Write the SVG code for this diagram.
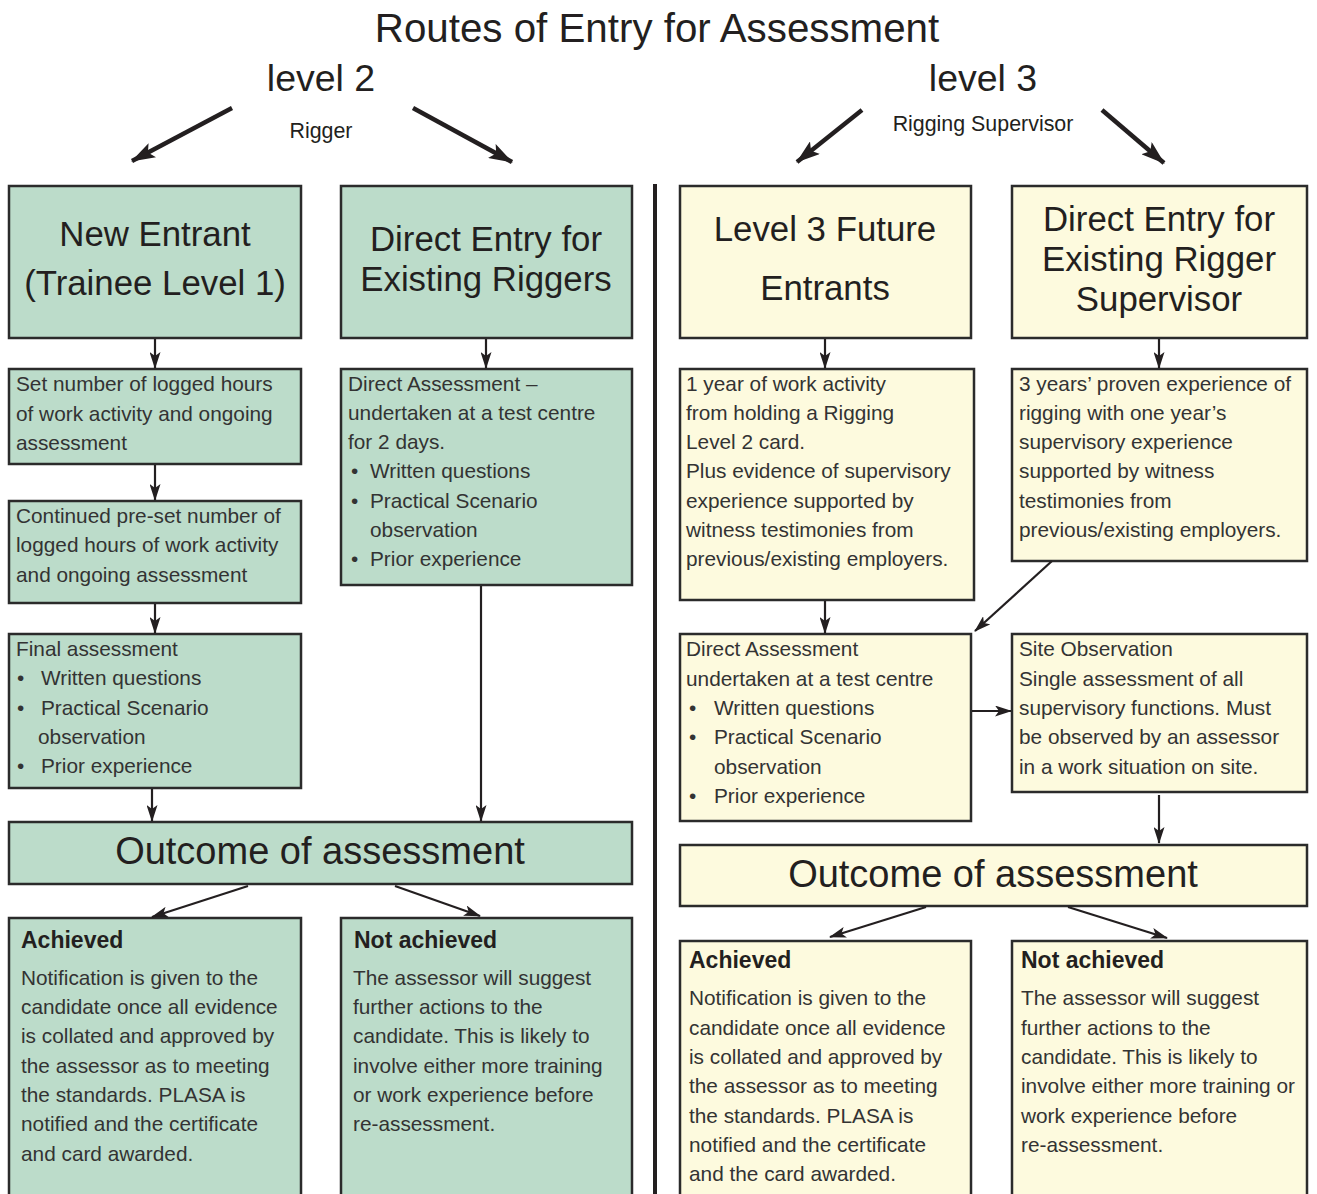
<svg xmlns="http://www.w3.org/2000/svg" width="1317" height="1194" viewBox="0 0 1317 1194">
<style>
.g{fill:#bcdcca;stroke:#2b2b2b;stroke-width:2.5}
.y{fill:#fdfade;stroke:#2b2b2b;stroke-width:2.5}
text{font-family:"Liberation Sans",Arial,sans-serif;fill:#231f20}
.h1{font-size:40.3px;text-anchor:middle}
.lv{font-size:37.5px;text-anchor:middle}
.sub{font-size:21.4px;text-anchor:middle}
.bt{font-size:34.8px;text-anchor:middle}
.b{font-size:20.8px;fill:#333}
.hd{font-size:23px;font-weight:bold}
.oc{font-size:38px;text-anchor:middle}
.c line{stroke:#231f20;stroke-width:2.2}
.c .thick{stroke-width:4.5}
</style>
<defs>
<marker id="a" viewBox="0 0 17 11" refX="16" refY="5.5" markerWidth="17" markerHeight="11" markerUnits="userSpaceOnUse" orient="auto">
<path d="M0,0 L17,5.5 L0,11 L4,5.5 z" fill="#231f20"/>
</marker>
<marker id="A" viewBox="0 0 24 16" refX="23" refY="8" markerWidth="24" markerHeight="16" markerUnits="userSpaceOnUse" orient="auto">
<path d="M0,0 L24,8 L0,16 L5,8 z" fill="#231f20"/>
</marker>
</defs>
<rect width="1317" height="1194" fill="#fff"/>
<text class="h1" x="657" y="42">Routes of Entry for Assessment</text>
<text class="lv" x="321" y="91">level 2</text>
<text class="lv" x="983" y="91">level 3</text>
<text class="sub" x="321" y="138">Rigger</text>
<text class="sub" x="983" y="131">Rigging Supervisor</text>
<line x1="655" y1="184" x2="655" y2="1194" stroke="#231f20" stroke-width="4"/>

<g id="new-entrant"><rect class="g" x="9" y="186" width="292" height="152"/>
<text class="bt" x="155" y="246">New Entrant</text><text class="bt" x="155" y="295">(Trainee Level 1)</text></g>
<g id="direct-entry-riggers"><rect class="g" x="341" y="186" width="291" height="152"/>
<text class="bt" x="486" y="251">Direct Entry for</text><text class="bt" x="486" y="291">Existing Riggers</text></g>
<g id="set-number"><rect class="g" x="9" y="369" width="292" height="95"/>
<text class="b" x="16" y="391">Set number of logged hours</text><text class="b" x="16" y="421">of work activity and ongoing</text><text class="b" x="16" y="450">assessment</text></g>
<g id="continued"><rect class="g" x="9" y="501" width="292" height="102"/>
<text class="b" x="16" y="523">Continued pre-set number of</text><text class="b" x="16" y="552">logged hours of work activity</text><text class="b" x="16" y="582">and ongoing assessment</text></g>
<g id="final-assessment"><rect class="g" x="9" y="634" width="292" height="154"/>
<text class="b" x="16" y="656">Final assessment</text>
<text class="b" x="17" y="685">•</text><text class="b" x="41" y="685">Written questions</text>
<text class="b" x="17" y="715">•</text><text class="b" x="41" y="715">Practical Scenario</text>
<text class="b" x="38" y="744">observation</text>
<text class="b" x="17" y="773">•</text><text class="b" x="41" y="773">Prior experience</text></g>
<g id="direct-assessment-l2"><rect class="g" x="341" y="369" width="291" height="216"/>
<text class="b" x="348" y="391">Direct Assessment –</text><text class="b" x="348" y="420">undertaken at a test centre</text><text class="b" x="348" y="449">for 2 days.</text>
<text class="b" x="351" y="478">•</text><text class="b" x="370" y="478">Written questions</text>
<text class="b" x="351" y="508">•</text><text class="b" x="370" y="508">Practical Scenario</text>
<text class="b" x="370" y="537">observation</text>
<text class="b" x="351" y="566">•</text><text class="b" x="370" y="566">Prior experience</text></g>
<g id="outcome-l2"><rect class="g" x="9" y="822" width="623" height="62"/>
<text class="oc" x="320" y="864">Outcome of assessment</text></g>
<g id="achieved-l2"><rect class="g" x="9" y="918" width="292" height="290"/>
<text class="hd" x="21" y="948">Achieved</text>
<text class="b" x="21" y="985">Notification is given to the</text><text class="b" x="21" y="1014">candidate once all evidence</text><text class="b" x="21" y="1043">is collated and approved by</text><text class="b" x="21" y="1073">the assessor as to meeting</text><text class="b" x="21" y="1102">the standards. PLASA is</text><text class="b" x="21" y="1131">notified and the certificate</text><text class="b" x="21" y="1161">and card awarded.</text></g>
<g id="not-achieved-l2"><rect class="g" x="341" y="918" width="291" height="290"/>
<text class="hd" x="354" y="948">Not achieved</text>
<text class="b" x="353" y="985">The assessor will suggest</text><text class="b" x="353" y="1014">further actions to the</text><text class="b" x="353" y="1043">candidate. This is likely to</text><text class="b" x="353" y="1073">involve either more training</text><text class="b" x="353" y="1102">or work experience before</text><text class="b" x="353" y="1131">re-assessment.</text></g>

<g id="future-entrants"><rect class="y" x="680" y="186" width="291" height="152"/>
<text class="bt" x="825" y="241">Level 3 Future</text><text class="bt" x="825" y="300">Entrants</text></g>
<g id="direct-entry-supervisor"><rect class="y" x="1012" y="186" width="295" height="152"/>
<text class="bt" x="1159" y="231">Direct Entry for</text><text class="bt" x="1159" y="271">Existing Rigger</text><text class="bt" x="1159" y="311">Supervisor</text></g>
<g id="one-year"><rect class="y" x="680" y="369" width="294" height="231"/>
<text class="b" x="686" y="391">1 year of work activity</text><text class="b" x="686" y="420">from holding a Rigging</text><text class="b" x="686" y="449">Level 2 card.</text><text class="b" x="686" y="478">Plus evidence of supervisory</text><text class="b" x="686" y="508">experience supported by</text><text class="b" x="686" y="537">witness testimonies from</text><text class="b" x="686" y="566">previous/existing employers.</text></g>
<g id="three-years"><rect class="y" x="1012" y="369" width="295" height="192"/>
<text class="b" x="1019" y="391">3 years’ proven experience of</text><text class="b" x="1019" y="420">rigging with one year’s</text><text class="b" x="1019" y="449">supervisory experience</text><text class="b" x="1019" y="478">supported by witness</text><text class="b" x="1019" y="508">testimonies from</text><text class="b" x="1019" y="537">previous/existing employers.</text></g>
<g id="direct-assessment-l3"><rect class="y" x="680" y="634" width="291" height="187"/>
<text class="b" x="686" y="656">Direct Assessment</text><text class="b" x="686" y="686">undertaken at a test centre</text>
<text class="b" x="689" y="715">•</text><text class="b" x="714" y="715">Written questions</text>
<text class="b" x="689" y="744">•</text><text class="b" x="714" y="744">Practical Scenario</text>
<text class="b" x="714" y="774">observation</text>
<text class="b" x="689" y="803">•</text><text class="b" x="714" y="803">Prior experience</text></g>
<g id="site-observation"><rect class="y" x="1012" y="634" width="295" height="158"/>
<text class="b" x="1019" y="656">Site Observation</text><text class="b" x="1019" y="686">Single assessment of all</text><text class="b" x="1019" y="715">supervisory functions. Must</text><text class="b" x="1019" y="744">be observed by an assessor</text><text class="b" x="1019" y="774">in a work situation on site.</text></g>
<g id="outcome-l3"><rect class="y" x="680" y="845" width="627" height="61"/>
<text class="oc" x="993" y="887">Outcome of assessment</text></g>
<g id="achieved-l3"><rect class="y" x="680" y="941" width="291" height="270"/>
<text class="hd" x="689" y="968">Achieved</text>
<text class="b" x="689" y="1005">Notification is given to the</text><text class="b" x="689" y="1035">candidate once all evidence</text><text class="b" x="689" y="1064">is collated and approved by</text><text class="b" x="689" y="1093">the assessor as to meeting</text><text class="b" x="689" y="1123">the standards. PLASA is</text><text class="b" x="689" y="1152">notified and the certificate</text><text class="b" x="689" y="1181">and the card awarded.</text></g>
<g id="not-achieved-l3"><rect class="y" x="1012" y="941" width="295" height="270"/>
<text class="hd" x="1021" y="968">Not achieved</text>
<text class="b" x="1021" y="1005">The assessor will suggest</text><text class="b" x="1021" y="1035">further actions to the</text><text class="b" x="1021" y="1064">candidate. This is likely to</text><text class="b" x="1021" y="1093">involve either more training or</text><text class="b" x="1021" y="1123">work experience before</text><text class="b" x="1021" y="1152">re-assessment.</text></g>

<g class="c" id="connectors">
<line class="thick" x1="232" y1="108" x2="132" y2="161" marker-end="url(#A)"/>
<line class="thick" x1="413" y1="108" x2="512" y2="162" marker-end="url(#A)"/>
<line class="thick" x1="862" y1="110" x2="797" y2="162" marker-end="url(#A)"/>
<line class="thick" x1="1102" y1="110" x2="1164" y2="163" marker-end="url(#A)"/>
<line x1="155" y1="339" x2="155" y2="368" marker-end="url(#a)"/>
<line x1="486" y1="339" x2="486" y2="368" marker-end="url(#a)"/>
<line x1="155" y1="465" x2="155" y2="500" marker-end="url(#a)"/>
<line x1="155" y1="604" x2="155" y2="633" marker-end="url(#a)"/>
<line x1="152" y1="789" x2="152" y2="821" marker-end="url(#a)"/>
<line x1="481" y1="586" x2="481" y2="821" marker-end="url(#a)"/>
<line x1="248" y1="886" x2="152" y2="917" marker-end="url(#a)"/>
<line x1="395" y1="886" x2="480" y2="916" marker-end="url(#a)"/>
<line x1="825" y1="339" x2="825" y2="368" marker-end="url(#a)"/>
<line x1="1159" y1="339" x2="1159" y2="368" marker-end="url(#a)"/>
<line x1="825" y1="601" x2="825" y2="633" marker-end="url(#a)"/>
<line x1="1052" y1="561" x2="975" y2="631" marker-end="url(#a)"/>
<line x1="972" y1="711" x2="1011" y2="711" marker-end="url(#a)"/>
<line x1="1159" y1="795" x2="1159" y2="843" marker-end="url(#a)"/>
<line x1="926" y1="907" x2="830" y2="937" marker-end="url(#a)"/>
<line x1="1068" y1="907" x2="1167" y2="938" marker-end="url(#a)"/>
</g>
</svg>
